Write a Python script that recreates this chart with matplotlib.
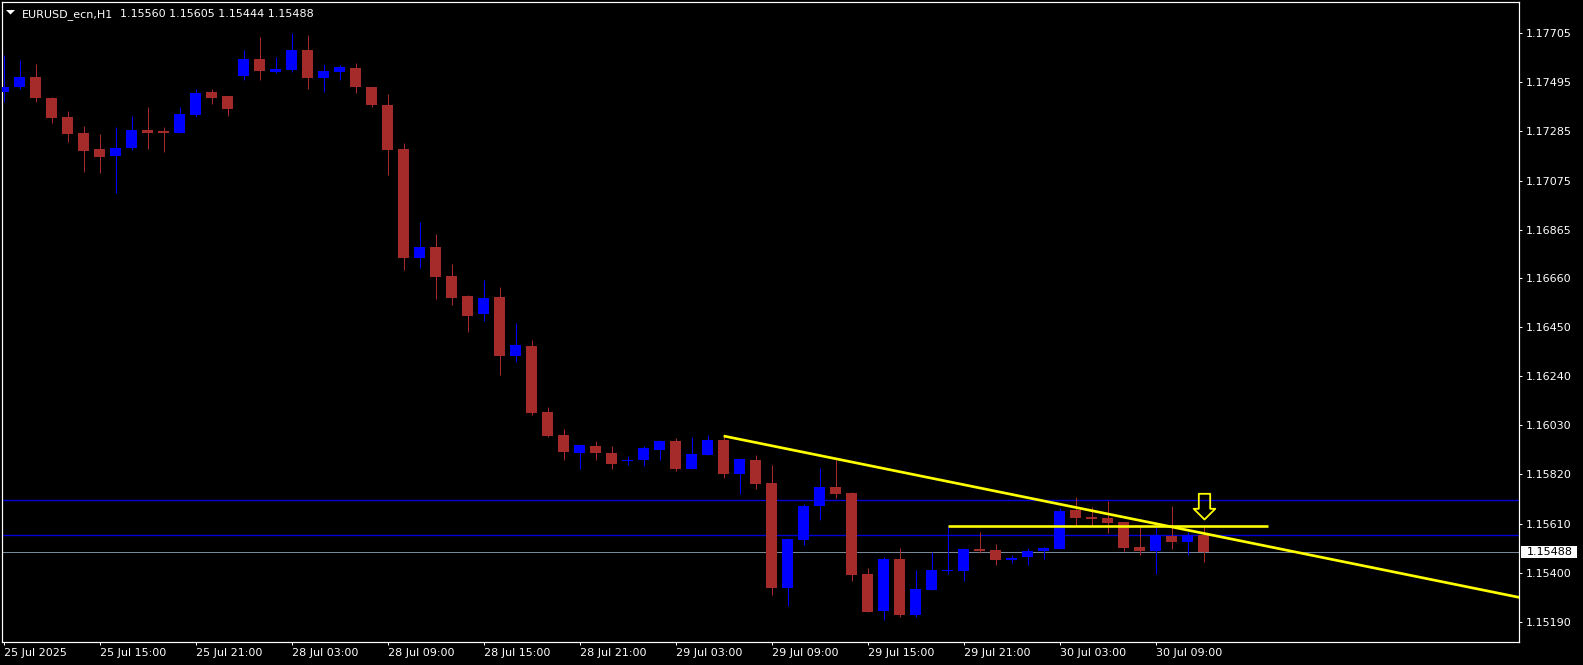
import numpy as np
import matplotlib
matplotlib.use("Agg")
import matplotlib.pyplot as plt
from matplotlib.path import Path
from matplotlib.patches import Polygon, Rectangle

# ---------------- data ----------------
symbol = "EURUSD_ecn,H1"

opens = [1.17455, 1.17473, 1.17517, 1.17427, 1.17347, 1.17279, 1.17211, 1.17182, 1.17216, 1.17292,
         1.17288, 1.17279, 1.17356, 1.17454, 1.17435, 1.17524, 1.17595, 1.17541, 1.17549, 1.17634,
         1.17515, 1.17541, 1.17557, 1.17474, 1.17399, 1.17211, 1.16746, 1.16792, 1.16668, 1.16582,
         1.16507, 1.16578, 1.16327, 1.16369, 1.16087, 1.15989, 1.15912, 1.15942, 1.15912, 1.15879,
         1.15883, 1.15926, 1.15963, 1.15843, 1.15903, 1.15967, 1.15823, 1.15882, 1.15783, 1.15336,
         1.15541, 1.15686, 1.15766, 1.15741, 1.15395, 1.15238, 1.15459, 1.15221, 1.15328, 1.15409,
         1.15409, 1.15501, 1.15497, 1.15456, 1.15469, 1.15494, 1.15501, 1.15668, 1.15638, 1.15632,
         1.15615, 1.15510, 1.15494, 1.15558, 1.15533, 1.15560]
highs = [1.17612, 1.17591, 1.17574, 1.17432, 1.17373, 1.17309, 1.17275, 1.17305, 1.17352, 1.17390,
         1.17305, 1.17390, 1.17467, 1.17467, 1.17437, 1.17634, 1.17689, 1.17604, 1.17706, 1.17698,
         1.17574, 1.17570, 1.17578, 1.17476, 1.17446, 1.17236, 1.16899, 1.16847, 1.16719, 1.16587,
         1.16651, 1.16621, 1.16467, 1.16394, 1.16108, 1.16014, 1.15946, 1.15964, 1.15942, 1.15900,
         1.15943, 1.15969, 1.15976, 1.15980, 1.15989, 1.15984, 1.15886, 1.15903, 1.15860, 1.15550,
         1.15694, 1.15848, 1.15882, 1.15746, 1.15420, 1.15469, 1.15506, 1.15412, 1.15490, 1.15600,
         1.15506, 1.15574, 1.15523, 1.15475, 1.15507, 1.15509, 1.15678, 1.15722, 1.15681, 1.15707,
         1.15618, 1.15594, 1.15594, 1.15685, 1.15575, 1.15605]
lows = [1.17413, 1.17467, 1.17409, 1.17323, 1.17238, 1.17114, 1.17109, 1.17024, 1.17208, 1.17212,
        1.17199, 1.17277, 1.17349, 1.17404, 1.17353, 1.17503, 1.17503, 1.17534, 1.17541, 1.17468,
        1.17455, 1.17503, 1.17451, 1.17391, 1.17101, 1.16695, 1.16703, 1.16571, 1.16545, 1.16430,
        1.16477, 1.16246, 1.16302, 1.16075, 1.15981, 1.15883, 1.15845, 1.15883, 1.15845, 1.15862,
        1.15857, 1.15883, 1.15836, 1.15841, 1.15902, 1.15806, 1.15738, 1.15759, 1.15306, 1.15259,
        1.15520, 1.15627, 1.15721, 1.15366, 1.15232, 1.15198, 1.15212, 1.15212, 1.15326, 1.15393,
        1.15366, 1.15483, 1.15434, 1.15443, 1.15434, 1.15460, 1.15500, 1.15604, 1.15604, 1.15571,
        1.15493, 1.15477, 1.15396, 1.15503, 1.15477, 1.15444]
closes = [1.17476, 1.17517, 1.17426, 1.17344, 1.17276, 1.17203, 1.17178, 1.17215, 1.17292, 1.17280,
          1.17280, 1.17360, 1.17450, 1.17430, 1.17379, 1.17594, 1.17545, 1.17552, 1.17634, 1.17515,
          1.17544, 1.17561, 1.17473, 1.17400, 1.17208, 1.16746, 1.16792, 1.16665, 1.16575, 1.16498,
          1.16574, 1.16327, 1.16373, 1.16084, 1.15986, 1.15917, 1.15945, 1.15913, 1.15866, 1.15883,
          1.15933, 1.15963, 1.15845, 1.15907, 1.15967, 1.15823, 1.15886, 1.15780, 1.15336, 1.15544,
          1.15685, 1.15766, 1.15738, 1.15392, 1.15234, 1.15459, 1.15221, 1.15331, 1.15412, 1.15413,
          1.15500, 1.15494, 1.15456, 1.15463, 1.15493, 1.15506, 1.15664, 1.15635, 1.15631, 1.15614,
          1.15507, 1.15494, 1.15560, 1.15533, 1.15560, 1.15488]

time_ticks = [0, 6, 12, 18, 24, 30, 36, 42, 48, 54, 60, 66, 72]
time_labels = ["25 Jul 2025", "25 Jul 15:00", "25 Jul 21:00", "28 Jul 03:00", "28 Jul 09:00",
               "28 Jul 15:00", "28 Jul 21:00", "29 Jul 03:00", "29 Jul 09:00", "29 Jul 15:00",
               "29 Jul 21:00", "30 Jul 03:00", "30 Jul 09:00"]
price_ticks = [1.17705, 1.17495, 1.17285, 1.17075, 1.16865, 1.16660, 1.16450,
               1.16240, 1.16030, 1.15820, 1.15610, 1.15400, 1.15190]

blue_levels = [1.15711, 1.15563]
bid_price = 1.15488
support_level = 1.15600
support_span = [59, 79]
trend_x = [45, 75]
trend_y = [1.15984, 1.15568]
arrow_x = 75
arrow_y = 1.15685

# ---------------- layout ----------------
W, H = 1583, 665
fig = plt.figure(figsize=(W / 100, H / 100), dpi=100, facecolor="black")
ax_l, ax_r, ax_t, ax_b = 2.3, 1519.3, 2.3, 641.5
ax = fig.add_axes([ax_l / W, 1 - ax_b / H, (ax_r - ax_l) / W, (ax_b - ax_t) / H])
ax.set_facecolor("black")
xmin, xmax = -0.08, 94.73
ymin, ymax = 1.15106, 1.17837
ax.set_xlim(xmin, xmax)
ax.set_ylim(ymin, ymax)

px = 0.72  # points per pixel

RED = "#A52A2A"
BLUE = "#0000FF"

x = np.arange(len(opens))
o = np.array(opens); h = np.array(highs); l = np.array(lows); c = np.array(closes)
up = c >= o
cols = np.where(up, BLUE, RED)
price_per_px = (ymax - ymin) / (ax_b - ax_t)

ax.vlines(x, l, h, colors=cols, linewidth=1.0 * px, zorder=2)
body_bot = np.minimum(o, c)
body_h = np.maximum(np.abs(c - o), price_per_px * 1.0)
ax.bar(x, body_h, bottom=body_bot, width=11 / 16, color=cols, linewidth=0, zorder=3)

# horizontal lines
for lv in blue_levels:
    ax.axhline(lv, color="#0000D8", linewidth=1.4 * px, zorder=1)
ax.axhline(bid_price, color="#778899", linewidth=1.0 * px, zorder=1)

# support (yellow horizontal segment)
ax.plot(support_span, [support_level, support_level], color="#FFFF00",
        linewidth=2.6 * px, solid_capstyle="butt", zorder=5)

# trend line ray
slope = (trend_y[1] - trend_y[0]) / (trend_x[1] - trend_x[0])
ray_x = [trend_x[0], xmax + 1]
ray_y = [trend_y[0], trend_y[0] + slope * (xmax + 1 - trend_x[0])]
ax.plot(ray_x, ray_y, color="#FFFF00", linewidth=2.7 * px, solid_capstyle="butt", zorder=5)

# hollow down arrow
arrow_verts = [(-5.7, 12.7), (5.7, 12.7), (5.7, -2.3), (10.8, -2.3), (0, -13.0),
               (-10.8, -2.3), (-5.7, -2.3), (-5.7, 12.7)]
arrow_path = Path(arrow_verts, closed=True)
ax.plot([arrow_x], [arrow_y], marker=arrow_path, markersize=26 * px,
        markerfacecolor="none", markeredgecolor="#FFFF00", markeredgewidth=1.8 * px,
        linestyle="none", zorder=6)

# spines
for s in ax.spines.values():
    s.set_color("white")
    s.set_linewidth(1.2 * px)

# ticks
ax.yaxis.tick_right()
ax.set_yticks(price_ticks)
ax.set_yticklabels([f"{p:.5f}" for p in price_ticks])
ax.set_xticks(time_ticks)
ax.set_xticklabels(time_labels)
for lab in ax.get_xticklabels():
    lab.set_horizontalalignment("left")
ax.tick_params(axis="both", colors="white", labelcolor="white", labelsize=8,
               length=3 * px, width=1 * px)
ax.tick_params(axis="y", pad=4 * px)
ax.tick_params(axis="x", pad=3 * px)

# bid label box on price axis
fig.canvas.draw()
_, ybid = ax.transData.transform((0, bid_price))
fig.patches.append(Rectangle((1521 / W, (ybid - 6) / H), 56 / W, 12 / H,
                             transform=fig.transFigure, facecolor="white",
                             edgecolor="none", zorder=10))
fig.text(1526.5 / W, ybid / H, f"{bid_price:.5f}", color="black", fontsize=8,
         ha="left", va="center", zorder=11)

# title
fig.patches.append(Polygon([(6 / W, 1 - 10 / H), (15 / W, 1 - 10 / H), (10.5 / W, 1 - 14.5 / H)],
                           closed=True, transform=fig.transFigure, facecolor="white",
                           edgecolor="none", zorder=10))
fig.text(21.7 / W, 1 - 16.7 / H, symbol, color="white", fontsize=8, ha="left", va="baseline")
fig.text(120 / W, 1 - 16.7 / H,
         f"{o[-1]:.5f} {h[-1]:.5f} {l[-1]:.5f} {c[-1]:.5f}",
         color="white", fontsize=8, ha="left", va="baseline")

fig.savefig("out.png", dpi=100, facecolor="black")
